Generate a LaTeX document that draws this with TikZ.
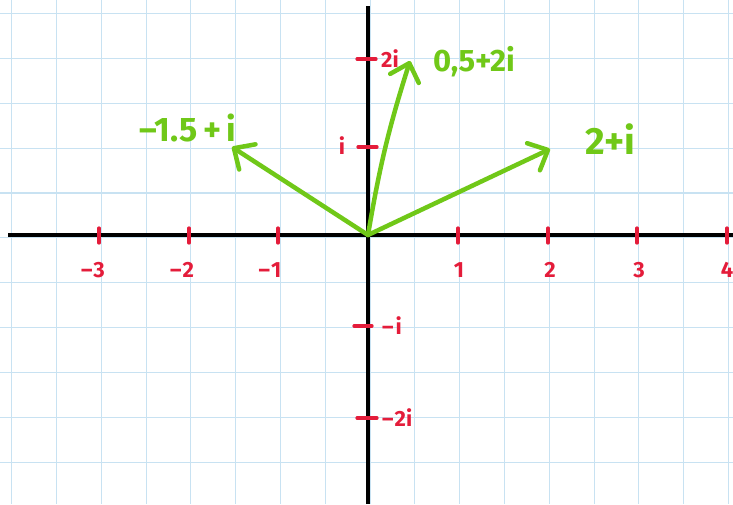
\documentclass[tikz,border=0pt]{standalone}
\usepackage{fontspec}
\setmainfont{Fira Sans}
\usetikzlibrary{arrows.meta}
\definecolor{gridblue}{RGB}{200,226,242}
\definecolor{penred}{RGB}{228,28,58}
\definecolor{pengreen}{RGB}{112,200,24}
\begin{document}
\begin{tikzpicture}[x=1pt,y=-1pt,
  gridline/.style={draw=gridblue,line width=1.1pt},
  axisline/.style={draw=black,line width=4pt},
  tickmark/.style={draw=penred,line width=3.2pt,line cap=round},
  ticklabel/.style={text=penred,font=\fontsize{22}{22}\selectfont\bfseries,inner sep=0pt},
  vec/.style={draw=pengreen,line width=4.5pt,line cap=round,line join=round,
    -{Straight Barb[length=16pt,width=30pt,line width=4.5pt,round]}},
  veclabel/.style={text=pengreen,inner sep=0pt}]
\useasboundingbox (0,0) rectangle (733,504);
\fill[white] (0,0) rectangle (733,504);
% grid
\foreach \k in {0,...,16} \draw[gridline] ({11.7+44.8*\k},0) -- ({11.7+44.8*\k},504);
\foreach \k in {0,...,10} \draw[gridline] (0,{13.4+44.9*\k}) -- (733,{13.4+44.9*\k});
% axes
\coordinate (O) at (368,235);
\coordinate (xl) at (8,235);
\coordinate (xr) at (733,235);
\coordinate (yt) at (368,6);
\coordinate (yb) at (368,504);
\draw[axisline] (xl) -- (xr);
\draw[axisline] (yt) -- (yb);
% x ticks
\foreach \x/\lab/\nm/\dx in {99/{–\kern1pt3}/m3/-6,189/{–\kern1pt2}/m2/-7,278/{–\kern1pt1}/m1/-8,458/1/p1/1,548/2/p2/2,637/3/p3/2,727/4/p4/0}{
  \draw[tickmark] (\x,228) -- (\x,243);
  \node[ticklabel] (lab\nm) at (\x+\dx,270) {\lab};
}
% y ticks
\draw[tickmark] (357,59) -- (376,59);
\node[ticklabel,anchor=west] (lab2i) at (381,59) {2i};
\draw[tickmark] (358,147) -- (377,147);
\node[ticklabel] (labi) at (342,146) {i};
\draw[tickmark] (354,326) -- (372,326);
\node[ticklabel,anchor=west] (labmi) at (382,326) {–\kern2pt i};
\draw[tickmark] (357,418) -- (377,418);
\node[ticklabel,anchor=west] (labm2i) at (382,418) {–\kern1pt2i};
% vectors
\coordinate (A) at (550,149);
\coordinate (B) at (410,61);
\coordinate (C) at (232,147);
\draw[vec] (O) -- (A);
\draw[vec] (O) to[bend left=4] (B);
\draw[vec] (O) -- (C);
\node[veclabel,font=\fontsize{38}{38}\selectfont\bfseries] (LA) at (610,139) {2+i};
\node[veclabel,font=\fontsize{31}{31}\selectfont\bfseries] (LB) at (474,62) {0,5+2i};
\node[veclabel,font=\fontsize{34}{34}\selectfont\bfseries] (LC) at (188,128) {–1.5\,+\,i};
\end{tikzpicture}
\end{document}
